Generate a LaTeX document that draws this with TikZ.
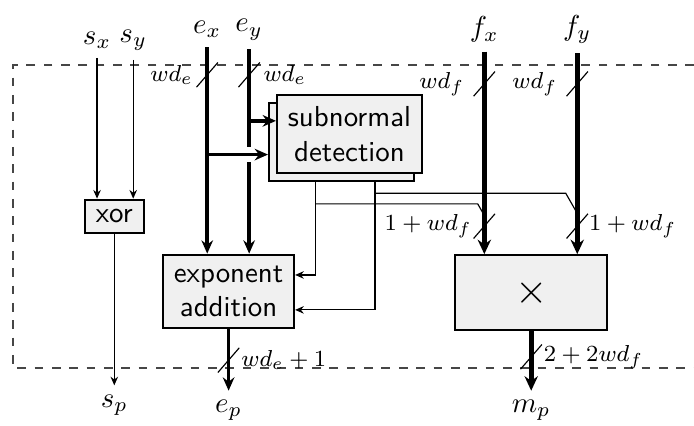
\documentclass[tikz,border=0pt]{standalone}
\usepackage{amsmath}
\usetikzlibrary{arrows.meta,positioning,calc}
\definecolor{ink}{RGB}{0,0,0}
\definecolor{boxfill}{RGB}{240,240,240}
\definecolor{frame}{RGB}{70,70,70}
\tikzset{
  blk/.style={draw=ink,thick,fill=boxfill,inner sep=3pt,font=\sffamily,align=center},
  io/.style={inner sep=3pt},
  sig/.style={-{Stealth[length=3pt,width=2.6pt]},thin},
  wire/.style={thin},
  bus/.style={-{Stealth[length=4.6pt,width=4pt]},line width=1.2pt},
  wbus/.style={-{Stealth[length=5pt,width=4.6pt]},line width=1.7pt},
  wslash/.style={thin},
  wlab/.style={font=\footnotesize,inner sep=0.5pt},
}
\newcommand{\wmark}[3]{\draw[wslash] ($(#1)+(-0.13,-0.15)$) -- ($(#1)+(0.13,0.15)$);
  \node[wlab,#2] at (#1) {$#3$};}

\begin{document}
\begin{tikzpicture}
\useasboundingbox (0,0) rectangle (8.44,5.18);
\draw[frame,dashed] (8.44,4.39) -- (0.158,4.39) -- (0.158,0.705) -- (8.44,0.705);
\node[io] (sx) at (1.18,4.69) {$s_x$};
\node[io] (sy) at (1.62,4.69) {$s_y$};
\node[io] (ex) at (2.52,4.82) {$e_x$};
\node[io] (ey) at (3.03,4.82) {$e_y$};
\node[io] (fx) at (5.89,4.82) {$f_x$};
\node[io] (fy) at (7.02,4.82) {$f_y$};
\node[blk,minimum width=0.72cm,minimum height=0.40cm] (xor) at (1.39,2.55) {xor};
\node[blk,minimum width=1.59cm,minimum height=0.89cm] (ea) at (2.78,1.636) {exponent\\addition};
\node[blk,minimum width=1.76cm,minimum height=0.95cm] (sdb) at (4.153,3.453) {};
\node[blk,minimum width=1.76cm,minimum height=0.95cm] (sd) at (4.25,3.55) {subnormal\\detection};
\node[blk,minimum width=1.85cm,minimum height=0.91cm,font=\Large] (mul) at (6.46,1.62) {$\times$};
\node[io] (sp) at (xor |- 0,0.255) {$s_p$};
\node[io] (ep) at (ea |- 0,0.19) {$e_p$};
\node[io] (mp) at (mul |- 0,0.19) {$m_p$};
\coordinate (t1) at (ey |- 0,3.71);
\coordinate (t2) at (ex |- 0,3.30);
\coordinate (j1) at (3.84,2.70);
\coordinate (j2) at (4.56,2.83);
\draw[sig] (sx) -- (sx |- xor.north); \draw[sig] (sy) -- (sy |- xor.north);
\draw[sig] (xor) -- (sp);
\draw[bus] (ey) -- (ey |- ea.north);
\draw[bus] (t1) -- (t1 -| sd.west);
\draw[bus,preaction={draw=white,line width=5pt,arrows=-,shorten >=4pt,shorten <=1pt}] (t2) -- (t2 -| sdb.west);
\draw[bus] (ex) -- (ex |- ea.north);
\draw[sig] (sdb.south -| j1) |- ([yshift=2mm]ea.east);
\draw[sig] (sdb.south -| j2) |- ([yshift=-2.25mm]ea.east);
\draw[wire] (j1) -- ($(fx |- j1)+(-0.08,0)$) -- ($(fx |- j1)+(0,-0.14)$);
\draw[wire] (j2) -- ($(fy |- j2)+(-0.14,0)$) -- ($(fy |- j2)+(-0.02,-0.21)$);
\draw[wbus] (fx) -- (fx |- mul.north); \draw[wbus] (fy) -- (fy |- mul.north);
\draw[bus] (ea) -- (ep); \draw[wbus] (mul) -- (mp);
\wmark{ex |- 0,4.27}{left=1.5mm}{wd_e}
\wmark{ey |- 0,4.27}{right=1.5mm}{wd_e}
\wmark{fx |- 0,4.16}{left=2.2mm}{wd_f}
\wmark{fy |- 0,4.16}{left=2.2mm}{wd_f}
\wmark{fx |- 0,2.43}{left=1.3mm}{1+wd_f}
\wmark{fy |- 0,2.43}{right=1.2mm}{1+wd_f}
\wmark{ep |- 0,0.80}{right=1.3mm}{wd_e+1}
\wmark{mp |- 0,0.84}{right=1.3mm}{2+2wd_f}
\end{tikzpicture}
\end{document}
